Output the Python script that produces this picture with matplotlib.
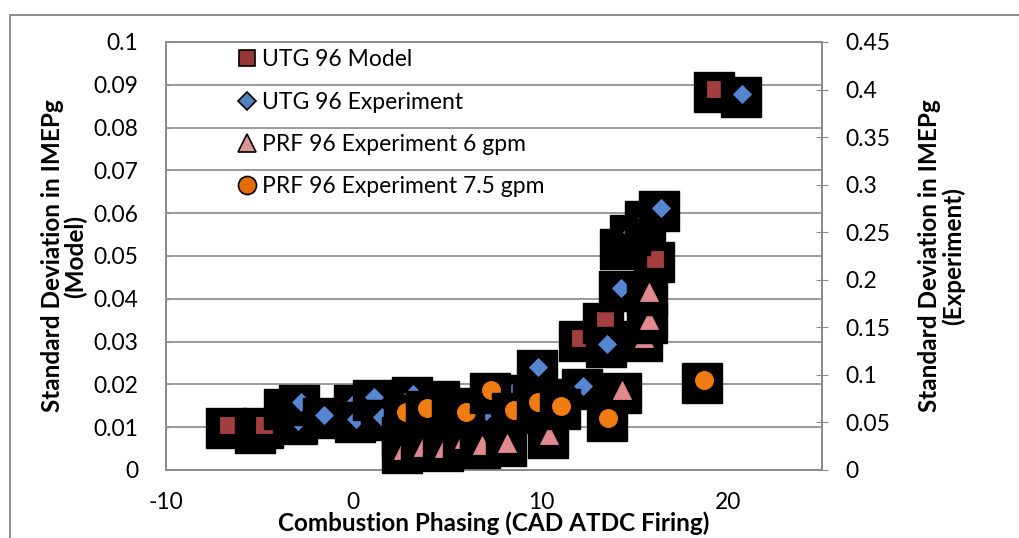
import matplotlib
matplotlib.use("Agg")
import matplotlib.pyplot as plt
from matplotlib.lines import Line2D
from matplotlib.transforms import offset_copy
from matplotlib.ticker import MultipleLocator, FuncFormatter

plt.rcParams['font.family'] = ['Lato', 'DejaVu Sans']

# UTG 96 model (left axis)
model_x = [-6.7, -5.15, -4.75, 12.1, 13.4, 16.1, 19.3]
model_y = [0.0105, 0.0093, 0.0105, 0.0308, 0.035, 0.0493, 0.089]

# UTG 96 experiment (right axis)
utg_x = [-3.6, -2.95, -2.8, -1.55, 0.1, 0.15, 1.1, 1.55, 3.2, 4.65, 7.05, 8.5,
         9.65, 9.85, 10.8, 12.25, 13.55, 14.25, 14.3, 14.85, 15.65, 16.4, 20.75]
utg_y = [0.067, 0.052, 0.072, 0.058, 0.072, 0.054, 0.077, 0.056, 0.080, 0.076, 0.062, 0.082,
         0.081, 0.108, 0.078, 0.088, 0.133, 0.191, 0.235, 0.250, 0.265, 0.275, 0.395]

# PRF 96 experiment, 6 gpm (right axis)
prf6_x = [2.65, 2.65, 3.7, 4.85, 5.9, 6.85, 8.2, 10.45, 14.35, 15.5, 15.75, 15.75]
prf6_y = [0.038, 0.021, 0.024, 0.023, 0.033, 0.026, 0.028, 0.037, 0.084, 0.139, 0.158, 0.187]

# PRF 96 experiment, 7.5 gpm (right axis)
prf75_x = [2.8, 3.95, 5.35, 6.0, 7.35, 8.55, 9.85, 11.1, 13.6, 18.7]
prf75_y = [0.061, 0.065, 0.068, 0.061, 0.084, 0.063, 0.0715, 0.067, 0.055, 0.0945]

labels = ["UTG 96 Model", "UTG 96 Experiment", "PRF 96 Experiment 6 gpm", "PRF 96 Experiment 7.5 gpm"]

W, H = 1019, 538
fig = plt.figure(figsize=(W / 100, H / 100), dpi=100)
ax = fig.add_axes([166 / W, (H - 470) / H, (822 - 166) / W, (470 - 42) / H])
ax2 = ax.twinx()

grey = '#8c8c8c'
ax.set_xlim(-10, 25)
ax.set_ylim(0, 0.1)
ax2.set_ylim(0, 0.45)
ax.xaxis.set_major_locator(MultipleLocator(10))
ax.yaxis.set_major_locator(MultipleLocator(0.01))
ax2.yaxis.set_major_locator(MultipleLocator(0.05))

fmt = FuncFormatter(lambda v, p: ('%.2f' % v).rstrip('0').rstrip('.') if abs(v) > 1e-9 else '0')
ax.yaxis.set_major_formatter(fmt)
ax2.yaxis.set_major_formatter(fmt)
ax.xaxis.set_major_formatter(FuncFormatter(lambda v, p: '%d' % v))

ax.grid(axis='y', color='#9a9a9a', linewidth=1.4)
ax.set_axisbelow(True)
for a in (ax, ax2):
    for s in a.spines.values():
        s.set_color(grey)
        s.set_linewidth(1.4)
ax.spines['top'].set_color('#9a9a9a')

ax.tick_params(axis='x', length=0, pad=16, labelsize=16.5)
ax.tick_params(axis='y', direction='in', length=3, color=grey, pad=20, labelsize=16.5)
ax2.tick_params(axis='y', direction='inout', length=8, color=grey, pad=13, labelsize=16.5)

ax.set_xlabel("Combustion Phasing (CAD ATDC Firing)", fontsize=17.5, fontweight='bold', labelpad=-1)
ax.set_ylabel("Standard Deviation in IMEPg\n(Model)", fontsize=17.5, fontweight='bold',
              labelpad=4, linespacing=1.0)
ax2.set_ylabel("Standard Deviation in IMEPg\n(Experiment)", fontsize=17.5, fontweight='bold',
               labelpad=20, linespacing=1.0)


def draw_series(a, xs, ys, marker, ms, color, z0):
    # each point sits on its own black square, drawn point by point
    shadow = offset_copy(a.transData, fig=fig, x=-1.5, y=-3, units='dots')
    z = z0
    for x, y in zip(xs, ys):
        a.plot([x], [y], marker='s', ms=29, color='black', linestyle='none',
               transform=shadow, zorder=z, clip_on=False)
        a.plot([x], [y], marker=marker, ms=ms, markerfacecolor=color,
               markeredgecolor=color, markeredgewidth=0.6, linestyle='none',
               zorder=z + 0.5, clip_on=False)
        z += 1
    return z


z = draw_series(ax, model_x, model_y, 's', 12, '#a3403f', 3)
z = draw_series(ax2, utg_x, utg_y, 'D', 9.5, '#5686d0', 3)
z = draw_series(ax2, prf6_x, prf6_y, '^', 13, '#e08a8f', z)
z = draw_series(ax2, prf75_x, prf75_y, 'o', 13, '#f17c12', z)

handles = [
    Line2D([], [], marker='s', ms=12, markerfacecolor='#953735', markeredgecolor='black', markeredgewidth=1.2, linestyle='none'),
    Line2D([], [], marker='D', ms=9, markerfacecolor='#4f81bd', markeredgecolor='black', markeredgewidth=1.2, linestyle='none'),
    Line2D([], [], marker='^', ms=13, markerfacecolor='#d99694', markeredgecolor='black', markeredgewidth=1.2, linestyle='none'),
    Line2D([], [], marker='o', ms=13, markerfacecolor='#e46c0a', markeredgecolor='black', markeredgewidth=1.2, linestyle='none'),
]
leg = ax2.legend(handles, labels, loc='upper left', bbox_to_anchor=(226 / W, (H - 38) / H),
                 bbox_transform=fig.transFigure, frameon=False, fontsize=16.5,
                 labelspacing=0.92, handlelength=0.8, handletextpad=0.25, borderpad=0)
leg.set_zorder(200)

# outer chart border
fig.add_artist(Line2D([10 / W, 1], [(H - 15) / H] * 2, color=grey, linewidth=1.4))
fig.add_artist(Line2D([10 / W] * 2, [0, (H - 15) / H], color=grey, linewidth=1.4))

fig.savefig("out.png", dpi=100)
